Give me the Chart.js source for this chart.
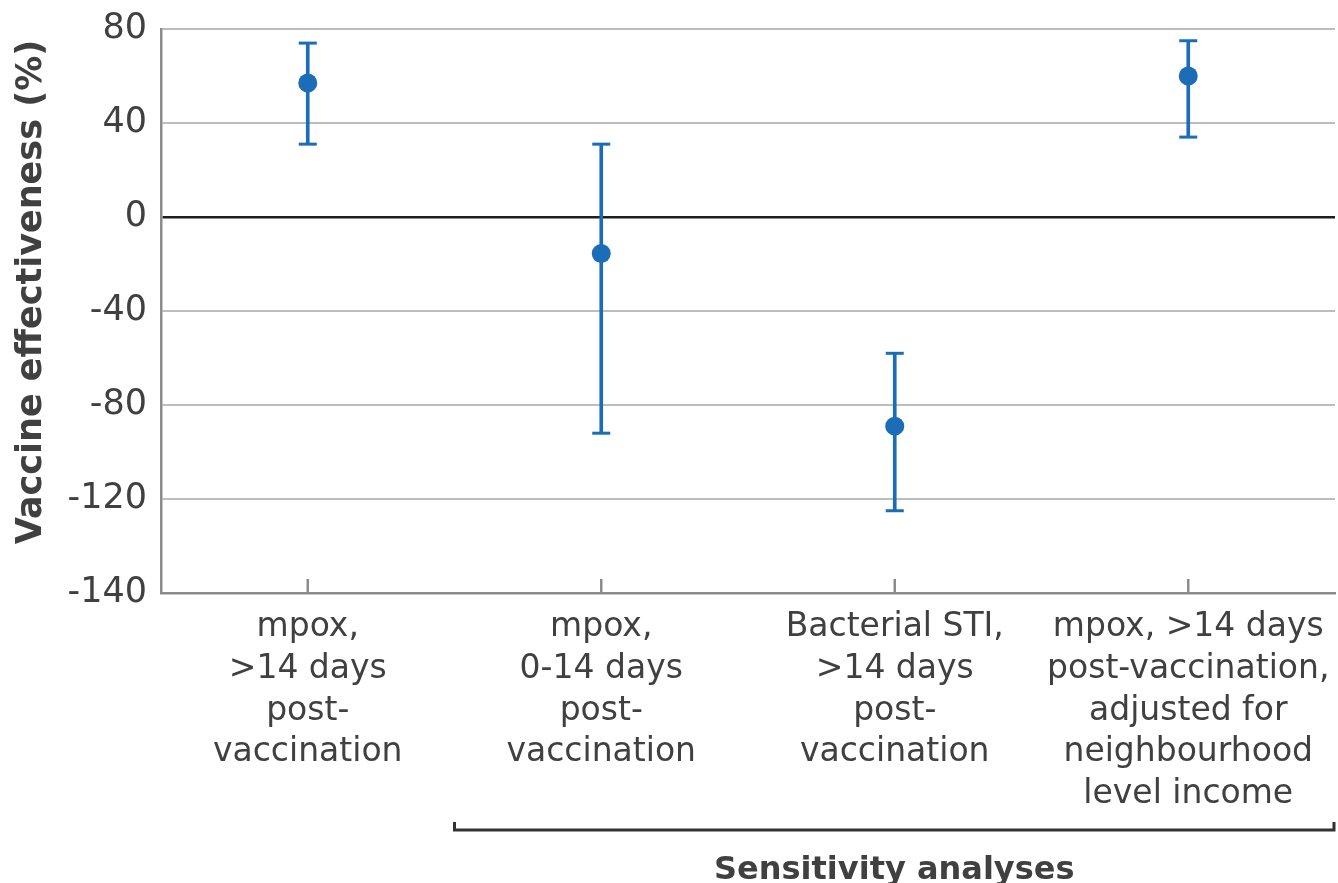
<!DOCTYPE html>
<html lang="en">
<head>
<meta charset="UTF-8">
<title>Vaccine effectiveness</title>
<style>
  body { margin: 0; background: #fff; }
  canvas { display: block; }
</style>
</head>
<body>
<canvas id="myChart" width="1338" height="883"></canvas>

<script src="https://cdn.jsdelivr.net/npm/chart.js"></script>
<script>
// data
const categories = [
  ['mpox,', '>14 days', 'post-', 'vaccination'],
  ['mpox,', '0-14 days', 'post-', 'vaccination'],
  ['Bacterial STI,', '>14 days', 'post-', 'vaccination'],
  ['mpox, >14 days', 'post-vaccination,', 'adjusted for', 'neighbourhood', 'level income']
];
const estimates = [57, -15.5, -89, 60];
const lowerCI = [31, -92, -125, 34];
const upperCI = [74, 31, -58, 75];
const yTickValues = [80, 40, 0, -40, -80, -120, -160];
const yTickLabels = ['80', '40', '0', '-40', '-80', '-120', '-140'];
const yTitle = 'Vaccine effectiveness (%)';
const groupLabel = 'Sensitivity analyses';

const blue = '#1a6db6';
const textColor = '#404040';
const font = '"DejaVu Sans", sans-serif';

// inward x ticks, y title, bracket for the sensitivity group
const extras = {
  id: 'extras',
  afterDraw(chart) {
    const ctx = chart.ctx;
    const area = chart.chartArea;
    const x = chart.scales.x;

    ctx.save();
    ctx.strokeStyle = '#8c8c8c';
    ctx.lineWidth = 2.5;
    categories.forEach((c, i) => {
      const px = x.getPixelForValue(i);
      ctx.beginPath();
      ctx.moveTo(px, area.bottom);
      ctx.lineTo(px, area.bottom - 14);
      ctx.stroke();
    });

    // y title
    ctx.fillStyle = textColor;
    ctx.font = 'bold 35px ' + font;
    ctx.textAlign = 'center';
    ctx.textBaseline = 'middle';
    ctx.translate(32, 292);
    ctx.rotate(-Math.PI / 2);
    ctx.fillText(yTitle, 0, 0);
    ctx.restore();

    // bracket
    const xl = (x.getPixelForValue(0) + x.getPixelForValue(1)) / 2;
    const xr = area.right - 1;
    const yb = 830;
    ctx.save();
    ctx.strokeStyle = '#333';
    ctx.lineWidth = 3;
    ctx.beginPath();
    ctx.moveTo(xl, yb - 8);
    ctx.lineTo(xl, yb);
    ctx.lineTo(xr, yb);
    ctx.lineTo(xr, yb - 8);
    ctx.stroke();

    ctx.fillStyle = textColor;
    ctx.font = 'bold 32px ' + font;
    ctx.textAlign = 'center';
    ctx.textBaseline = 'alphabetic';
    ctx.fillText(groupLabel, (xl + xr) / 2, 879);
    ctx.restore();
  }
};

new Chart(document.getElementById('myChart'), {
  type: 'bar',
  data: {
    labels: categories,
    datasets: [
      {
        // whiskers
        type: 'bar',
        data: lowerCI.map((v, i) => [v, upperCI[i]]),
        backgroundColor: blue,
        barThickness: 3,
        order: 3
      },
      {
        // caps
        type: 'line',
        data: lowerCI,
        showLine: false,
        pointStyle: 'line',
        pointRadius: 9,
        pointBorderWidth: 3,
        pointBorderColor: blue,
        order: 2
      },
      {
        type: 'line',
        data: upperCI,
        showLine: false,
        pointStyle: 'line',
        pointRadius: 9,
        pointBorderWidth: 3,
        pointBorderColor: blue,
        order: 2
      },
      {
        // point estimates
        type: 'line',
        data: estimates,
        showLine: false,
        pointRadius: 9.5,
        pointBorderWidth: 0,
        pointBackgroundColor: blue,
        order: 1
      }
    ]
  },
  options: {
    responsive: false,
    animation: false,
    devicePixelRatio: 1,
    // autoPadding would reserve room for the point radius on the right
    layout: { autoPadding: false, padding: { top: 29, right: 3, left: 0, bottom: 0 } },
    plugins: {
      legend: { display: false },
      tooltip: { enabled: false }
    },
    scales: {
      x: {
        grid: { drawOnChartArea: false, drawTicks: false },
        border: { color: '#8c8c8c', width: 2.5 },
        ticks: {
          autoSkip: false,
          maxRotation: 0,
          padding: 14,
          color: textColor,
          font: { family: font, size: 33, lineHeight: 1.26 }
        },
        afterFit(scale) {
          scale.height = 290;
          scale.paddingLeft = 0;
          scale.paddingRight = 0;
        }
      },
      y: {
        min: -160,
        max: 80,
        afterBuildTicks(scale) {
          scale.ticks = yTickValues.map(v => ({ value: v }));
        },
        grid: {
          drawTicks: false,
          color: c => c.tick && c.tick.value === 0 ? '#1e1e1e' : '#bdbdbd',
          lineWidth: c => c.tick && c.tick.value === 0 ? 2.5 : 2
        },
        border: { color: '#8c8c8c', width: 2.5 },
        ticks: {
          padding: 14,
          color: textColor,
          font: { family: font, size: 35 },
          callback: v => yTickLabels[yTickValues.indexOf(v)]
        },
        afterFit(scale) {
          scale.width = 161;
          scale.paddingTop = 0;
          scale.paddingBottom = 0;
        }
      }
    }
  },
  plugins: [extras]
});
</script>
</body>
</html>
